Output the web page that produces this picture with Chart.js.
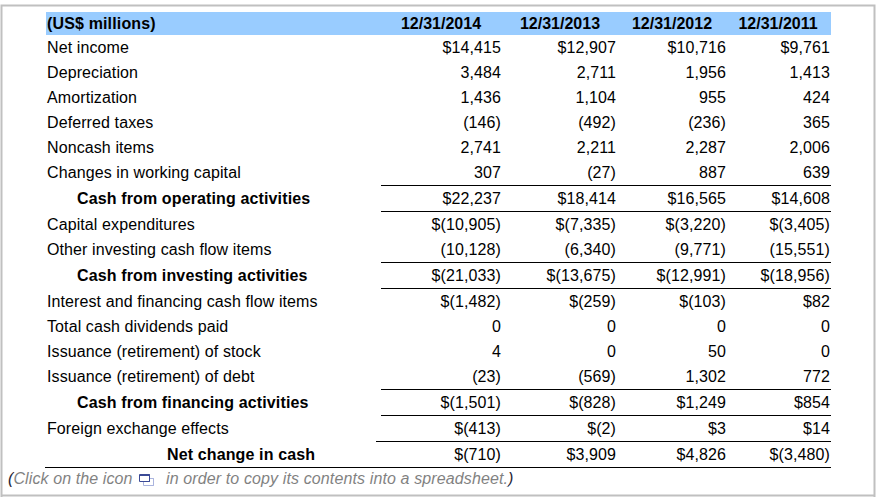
<!DOCTYPE html>
<html><head><meta charset="utf-8">
<style>html,body{margin:0;padding:0;background:#fff}canvas{display:block}</style>
<script src="https://cdn.jsdelivr.net/npm/chart.js@4/dist/chart.umd.min.js"></script>
</head><body>
<canvas id="c" width="878" height="497"></canvas>
<script>
// ---- data ----
const unitLabel = "(US$ millions)";
const periods = ["12/31/2014","12/31/2013","12/31/2012","12/31/2011"];
const rowLabels = ["Net income","Depreciation","Amortization","Deferred taxes","Noncash items","Changes in working capital","Cash from operating activities","Capital expenditures","Other investing cash flow items","Cash from investing activities","Interest and financing cash flow items","Total cash dividends paid","Issuance (retirement) of stock","Issuance (retirement) of debt","Cash from financing activities","Foreign exchange effects","Net change in cash"];
const values2014 = ["$14,415","3,484","1,436","(146)","2,741","307","$22,237","$(10,905)","(10,128)","$(21,033)","$(1,482)","0","4","(23)","$(1,501)","$(413)","$(710)"];
const values2013 = ["$12,907","2,711","1,104","(492)","2,211","(27)","$18,414","$(7,335)","(6,340)","$(13,675)","$(259)","0","0","(569)","$(828)","$(2)","$3,909"];
const values2012 = ["$10,716","1,956","955","(236)","2,287","887","$16,565","$(3,220)","(9,771)","$(12,991)","$(103)","0","50","1,302","$1,249","$3","$4,826"];
const values2011 = ["$9,761","1,413","424","365","2,006","639","$14,608","$(3,405)","(15,551)","$(18,956)","$82","0","0","772","$854","$14","$(3,480)"];
const footnoteStart = "(Click on the icon";
const footnoteEnd = "in order to copy its contents into a spreadsheet.)";

// ---- layout (scale units equal page pixels) ----
const W = 878, H = 497, FONT = '"Liberation Sans", Arial, sans-serif';
const headerY = 24.5;
const rowY = [48.5,73.5,98.5,123.5,148.5,173.5,199.5,225.5,250.5,276.5,302.5,327.5,352.5,377.5,403.5,429.5,455.5];
const valueRight = [501,616,726,830];
const headerCenter = [441,560,672,778];
const labelX = {normal:47, subtotal:77, total:167};
const rowKind = i => i===16 ? "total" : [6,9,14].includes(i) ? "subtotal" : "normal";
const allValues = [values2014,values2013,values2012,values2011];

// text cells anchored through the chart's scales
const cells = [{x:47,y:headerY,text:unitLabel,align:"left",font:"bold 16px "+FONT,color:"#000",ls:"0.15px"}];
periods.forEach((p,c)=>cells.push({x:headerCenter[c],y:headerY,text:p,align:"center",font:"bold 16px "+FONT,color:"#000",ls:"0px"}));
rowLabels.forEach((t,r)=>{
  const k=rowKind(r);
  cells.push({x:labelX[k],y:rowY[r],text:t,align:"left",font:(k==="normal"?"":"bold ")+"16px "+FONT,color:"#000",ls:k==="normal"?"0.1px":"0.13px"});
  allValues.forEach((v,c)=>cells.push({x:valueRight[c],y:rowY[r],text:v[r],align:"right",font:"16px "+FONT,color:"#000",ls:"0.1px"}));
});
const GRAY="#808080", DARK="#223";
cells.push({x:8,y:479.5,text:footnoteStart,align:"left",font:"italic 16px "+FONT,color:GRAY,parenAt:"start",ls:"0.1px"});
cells.push({x:166,y:479.5,text:footnoteEnd,align:"left",font:"italic 16px "+FONT,color:GRAY,parenAt:"end",ls:"0.12px"});

const seg=(x0,x1,y,color,w)=>({type:"scatter",showLine:true,data:[{x:x0,y},{x:x1,y}],borderColor:color,borderWidth:w,pointRadius:0,borderCapStyle:"butt",fill:false,order:2});
const ruleColor="#000";
const datasets=[
  // page frame
  {type:"scatter",showLine:true,data:[{x:1.5,y:497},{x:1.5,y:5.5},{x:874.5,y:5.5},{x:874.5,y:497}],borderColor:"#c0c0c0",borderWidth:2,pointRadius:0,fill:false,order:3},
  {type:"scatter",showLine:true,data:[{x:1,y:495.5},{x:875,y:495.5}],borderColor:"#c0c0c0",borderWidth:2,pointRadius:0,fill:false,order:3},
  // header band
  seg(46,831,23.5,"#99ccff",23),
  // rules
  seg(381,831,185.5,ruleColor,1),seg(381,831,211.5,ruleColor,1),
  seg(381,831,262.5,ruleColor,1),seg(381,831,288.5,ruleColor,1),
  seg(381,831,389.5,ruleColor,1),seg(381,831,415.5,ruleColor,1),
  seg(376,831,441.5,ruleColor,1),seg(45,831,467.5,ruleColor,1),
  // icon: back sheet shows only outside the front sheet
  {type:"scatter",showLine:true,data:[{x:150,y:478.5},{x:153.5,y:478.5},{x:153.5,y:485.5},{x:143.5,y:485.5},{x:143.5,y:482}],borderColor:"#aab4de",borderWidth:1,pointRadius:0,fill:false,order:2},
  {type:"scatter",showLine:true,data:[{x:139.5,y:474.5},{x:149.5,y:474.5},{x:149.5,y:481.5},{x:139.5,y:481.5},{x:139.5,y:474.5}],borderColor:"#3b4a96",borderWidth:1,fill:false,pointRadius:0,order:1},
  seg(139,150,475.5,"#3b4a96",1),
  // text anchors
  {type:"scatter",label:"cells",data:cells.map(c=>({x:c.x,y:c.y})),pointRadius:0,showLine:false,order:0}
];

const cellText={id:"cellText",afterDatasetsDraw(chart){
  const ctx=chart.ctx, i=chart.data.datasets.length-1, pts=chart.getDatasetMeta(i).data;
  ctx.save();ctx.textBaseline="middle";
  pts.forEach((el,k)=>{
    const c=cells[k];
    ctx.font=c.font;ctx.textAlign=c.align;ctx.letterSpacing=c.ls||"0px";
    if(c.parenAt){
      const w=ctx.measureText(c.text).width, pw=ctx.measureText(c.parenAt==="start"?"(":")").width;
      const g=ctx.createLinearGradient(el.x,0,el.x+w,0);
      const s=c.parenAt==="start"?(pw+0.5)/w:1-(pw+0.5)/w;
      if(c.parenAt==="start"){g.addColorStop(0,DARK);g.addColorStop(s,DARK);g.addColorStop(s,GRAY);g.addColorStop(1,GRAY);}
      else{g.addColorStop(0,GRAY);g.addColorStop(s,GRAY);g.addColorStop(s,DARK);g.addColorStop(1,DARK);}
      ctx.fillStyle=g;
    } else ctx.fillStyle=c.color;
    ctx.fillText(c.text,el.x,el.y);
  });
  ctx.restore();
}};
const whiteBg={id:"whiteBg",beforeDraw(chart){const x=chart.ctx;x.save();x.fillStyle="#fff";x.fillRect(0,0,W,H);x.restore();}};

const canvas=document.getElementById("c");
canvas.getContext("2d",{alpha:false});
new Chart(canvas,{
  type:"scatter",
  data:{datasets},
  options:{
    responsive:false,animation:false,
    layout:{padding:0},
    plugins:{legend:{display:false},tooltip:{enabled:false},title:{display:false}},
    scales:{
      x:{type:"linear",min:0,max:W,display:false},
      y:{type:"linear",min:0,max:H,reverse:true,display:false}
    },
    clip:false
  },
  plugins:[whiteBg,cellText]
});
</script>
</body></html>
